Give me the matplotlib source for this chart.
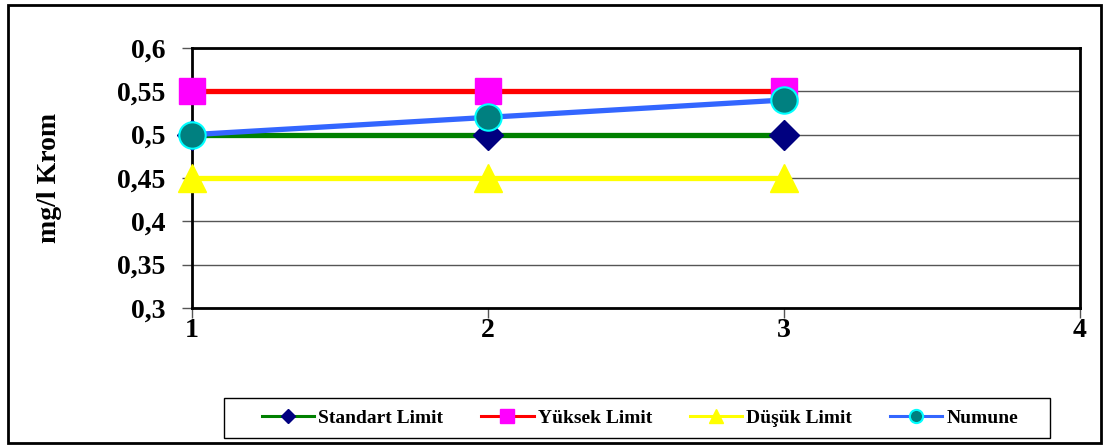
import matplotlib.pyplot as plt
from matplotlib.patches import Rectangle
from matplotlib.ticker import FuncFormatter

# measurement rounds and chromium values (mg/l)
rounds = [1, 2, 3]
standart = [0.5, 0.5, 0.5]
yuksek = [0.55, 0.55, 0.55]
dusuk = [0.45, 0.45, 0.45]
numune = [0.5, 0.52, 0.54]

x_ticks = [1, 2, 3, 4]
y_ticks = [0.3, 0.35, 0.4, 0.45, 0.5, 0.55, 0.6]

plt.rcParams['font.family'] = ['Liberation Serif', 'DejaVu Serif']
plt.rcParams['font.weight'] = 'bold'

W, H = 1109, 446
fig = plt.figure(figsize=(W / 100, H / 100), dpi=100)
ax = fig.add_axes([192 / W, 1 - 308 / H, (1080 - 192) / W, (308 - 48) / H])

# outer chart border
fig.patches.append(Rectangle((8 / W, 3 / H), (1101 - 8) / W, (441 - 3) / H,
                             transform=fig.transFigure, fill=False,
                             edgecolor='black', linewidth=2))
# legend box
fig.patches.append(Rectangle((224 / W, 1 - 438 / H), (1050 - 224) / W, 40 / H,
                             transform=fig.transFigure, fill=False,
                             edgecolor='black', linewidth=1))

lw = 3.8
ms = 19
ax.plot(rounds, standart, color='#008000', lw=lw, marker='D', ms=ms * 0.8,
        mfc='#000080', mec='#000080', label='Standart Limit', zorder=3,
        clip_on=False)
ax.plot(rounds, yuksek, color='#ff0000', lw=lw, marker='s', ms=ms,
        mfc='#ff00ff', mec='#ff00ff', label='Yüksek Limit', zorder=3,
        clip_on=False)
ax.plot(rounds, dusuk, color='#ffff00', lw=lw, marker='^', ms=ms * 1.05,
        mfc='#ffff00', mec='#ffff00', label='Düşük Limit', zorder=3,
        clip_on=False)
ax.plot(rounds, numune, color='#3366ff', lw=lw, marker='o', ms=ms,
        mfc='#008080', mec='#00ffff', mew=1.5, label='Numune', zorder=4,
        clip_on=False)

ax.set_xlim(1, 4)
ax.set_ylim(0.3, 0.6)
ax.set_xticks(x_ticks)
ax.set_yticks(y_ticks)
ax.yaxis.set_major_formatter(FuncFormatter(lambda v, p: f'{v:g}'.replace('.', ',')))
ax.grid(axis='y', color='#555555', lw=1)
ax.set_axisbelow(True)
for s in ax.spines.values():
    s.set_linewidth(2)
    s.set_color('black')
ax.tick_params(axis='both', length=7, width=1, labelsize=20, color='#555555')
ax.tick_params(axis='y', pad=12)
ax.tick_params(axis='x', pad=0)
for t in ax.get_xticklabels() + ax.get_yticklabels():
    t.set_fontweight('bold')

fig.text(50 / W, 1 - 178 / H, 'mg/l Krom', rotation=90, fontsize=20,
         fontweight='bold', ha='center', va='center')

leg = fig.legend(loc='center', bbox_to_anchor=(640 / W, 1 - 418 / H), ncol=4,
                 frameon=False, prop={'size': 14, 'weight': 'bold'},
                 handlelength=2.7, columnspacing=1.95, handletextpad=0.2,
                 borderpad=0.0, markerscale=0.5)
for h in leg.legend_handles:
    h.set_linewidth(2.2)

fig.savefig('out.png', dpi=100)
